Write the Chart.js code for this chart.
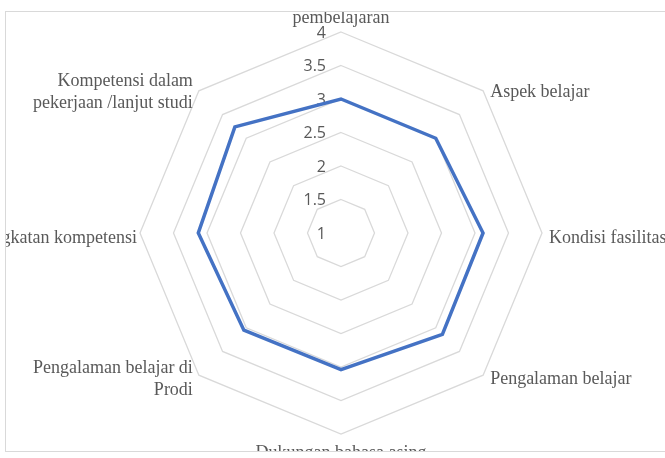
<!DOCTYPE html>
<html>
<head>
<meta charset="utf-8">
<script src="https://cdn.jsdelivr.net/npm/chart.js@4/dist/chart.umd.min.js"></script>
<style>
  html, body { margin: 0; padding: 0; background: #ffffff; }
  #wrap { position: relative; width: 665px; height: 458px; overflow: hidden; }
  canvas { display: block; }
</style>
</head>
<body>
<div id="wrap"><canvas id="c" width="665" height="458"></canvas></div>
<script>
// ---- data ----
const categories = [
  ["pembelajaran"],
  ["Aspek belajar"],
  ["Kondisi fasilitas"],
  ["Pengalaman belajar"],
  ["Dukungan bahasa asing"],
  ["Pengalaman belajar di", "Prodi"],
  ["Peningkatan kompetensi"],
  ["Kompetensi dalam", "pekerjaan /lanjut studi"]
];
const seriesValues = [3.0, 3.0, 3.12, 3.14, 3.04, 3.05, 3.13, 3.24];
const tickLabels = [1, 1.5, 2, 2.5, 3, 3.5, 4];

const frame = { left: 5.5, top: 11.5, right: 700, bottom: 451.5 };

const customLabels = {
  id: 'customLabels',
  beforeDatasetsDraw(chart) {
    const s = chart.scales.r;
    const ctx = chart.ctx;
    ctx.save();
    ctx.fillStyle = '#595959';
    ctx.font = '16px "Open Sans", sans-serif';
    ctx.textAlign = 'right';
    ctx.textBaseline = 'middle';
    tickLabels.forEach(v => {
      const y = s.yCenter - s.getDistanceFromCenterForValue(v);
      ctx.fillText(String(v), s.xCenter - 15, y + 1);
    });
    ctx.restore();
  },
  afterDraw(chart) {
    const s = chart.scales.r;
    const ctx = chart.ctx;
    ctx.save();
    ctx.beginPath();
    ctx.rect(frame.left, frame.top, frame.right - frame.left, frame.bottom - frame.top);
    ctx.clip();
    ctx.fillStyle = '#595959';
    ctx.font = '18px "Liberation Serif", "Times New Roman", serif';
    const lh = 22;
    categories.forEach((lines, i) => {
      const p = s.getPointPosition(i, s.drawingArea);
      const dx = p.x - s.xCenter;
      const dy = p.y - s.yCenter;
      let x, align;
      if (Math.abs(dx) < 1) { align = 'center'; x = p.x; }
      else if (dx > 0) { align = 'left'; x = p.x + 7; }
      else { align = 'right'; x = p.x - (Math.abs(dy) < 1 ? 3 : 6); }
      ctx.textAlign = align;
      ctx.textBaseline = 'middle';
      const n = lines.length;
      let cy;
      if (Math.abs(dx) < 1 && dy < 0) cy = p.y - 14 - (n - 1) * lh / 2;
      else if (Math.abs(dx) < 1 && dy > 0) cy = p.y + 19 + (n - 1) * lh / 2;
      else if (Math.abs(dy) < 1) cy = p.y + 5;
      else if (dy > 0) cy = p.y + 4;
      else cy = p.y + 1;
      lines.forEach((t, k) => {
        ctx.fillText(t, x, cy + (k - (n - 1) / 2) * lh);
      });
    });
    ctx.restore();
    // frame border
    ctx.save();
    ctx.strokeStyle = '#d9d9d9';
    ctx.lineWidth = 1;
    ctx.strokeRect(frame.left, frame.top, frame.right - frame.left, frame.bottom - frame.top);
    ctx.restore();
  }
};

new Chart(document.getElementById('c'), {
  type: 'radar',
  data: {
    labels: categories,
    datasets: [{
      data: seriesValues,
      borderColor: '#4472C4',
      backgroundColor: 'rgba(0,0,0,0)',
      borderWidth: 3.5,
      pointRadius: 0,
      pointHoverRadius: 0,
      fill: false,
      tension: 0
    }]
  },
  options: {
    responsive: false,
    animation: false,
    devicePixelRatio: 1,
    layout: { padding: { left: 140, right: 123, top: 32, bottom: 24 } },
    plugins: { legend: { display: false }, tooltip: { enabled: false } },
    scales: {
      r: {
        min: 1,
        max: 4,
        ticks: { stepSize: 0.5, display: false },
        grid: { color: '#d9d9d9', lineWidth: 1.3 },
        angleLines: { display: false },
        pointLabels: { display: false }
      }
    }
  },
  plugins: [customLabels]
});
</script>
</body>
</html>
